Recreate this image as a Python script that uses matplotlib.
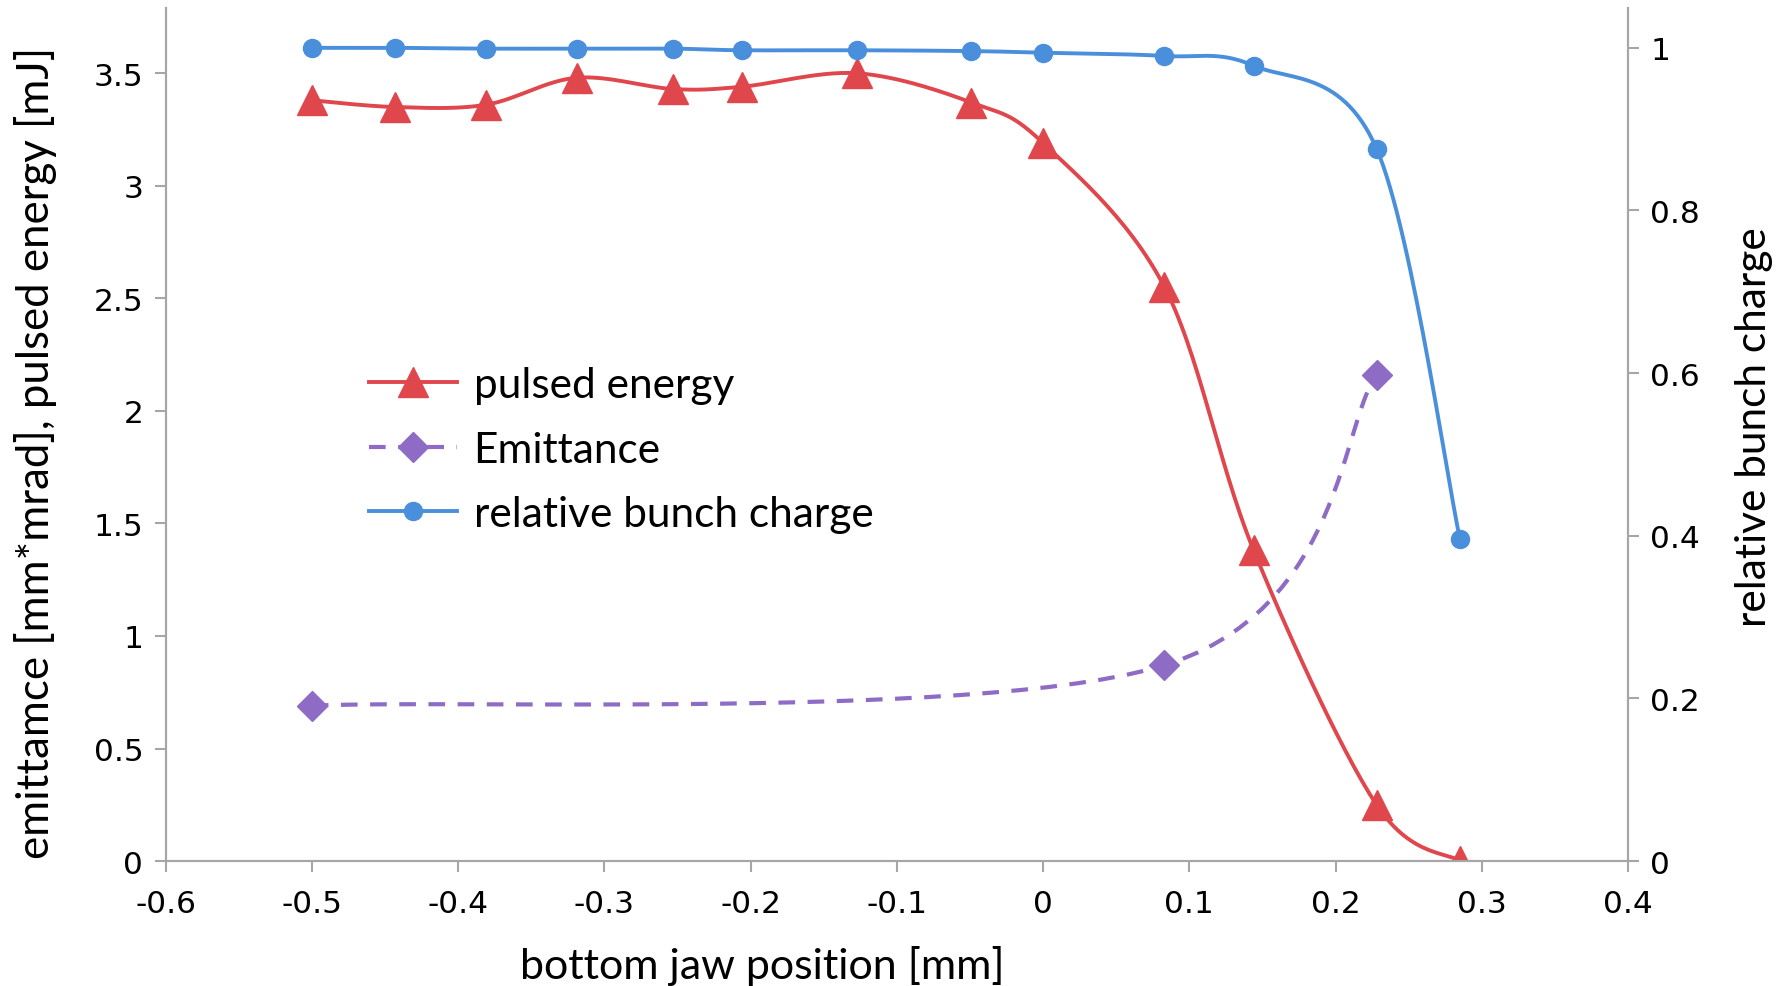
import matplotlib
matplotlib.use('Agg')
import matplotlib.pyplot as plt
import numpy as np

# data
jaw_pos = [-0.5, -0.443, -0.381, -0.319, -0.253, -0.206, -0.127, -0.049, 0.0, 0.083, 0.144, 0.228, 0.285]
pulsed_energy = [3.38, 3.35, 3.36, 3.48, 3.43, 3.44, 3.50, 3.37, 3.19, 2.55, 1.38, 0.25, 0.0]
bunch_charge = [1.0, 1.0, 0.999, 0.999, 0.999, 0.997, 0.997, 0.996, 0.994, 0.99, 0.978, 0.876, 0.396]
emit_pos = [-0.5, 0.083, 0.228]
emittance = [0.69, 0.87, 2.16]

RED = '#e0474c'
PURPLE = '#8e6cc6'
BLUE = '#4a8fdc'
GRAY = '#a6a6a6'

plt.rcParams['axes.unicode_minus'] = False


def smooth(x, y, n=30):
    # excel style smoothed line (catmull-rom bezier through the points)
    x = np.asarray(x, float)
    y = np.asarray(y, float)
    px = np.concatenate([[x[0]], x, [x[-1]]])
    py = np.concatenate([[y[0]], y, [y[-1]]])
    t = np.linspace(0, 1, n, endpoint=False)
    xs, ys = [], []
    for i in range(1, len(px) - 2):
        p0, p1, p2, p3 = (np.array([px[j], py[j]]) for j in (i - 1, i, i + 1, i + 2))
        c1 = p1 + (p2 - p0) / 6
        c2 = p2 - (p3 - p1) / 6
        b = ((1 - t) ** 3)[:, None] * p1 + (3 * (1 - t) ** 2 * t)[:, None] * c1 \
            + (3 * (1 - t) * t ** 2)[:, None] * c2 + (t ** 3)[:, None] * p2
        xs.extend(b[:, 0])
        ys.extend(b[:, 1])
    xs.append(x[-1])
    ys.append(y[-1])
    marks = list(range(0, len(xs), n))
    return np.array(xs), np.array(ys), marks


fig = plt.figure(figsize=(17.78, 9.87), dpi=100)
ax = fig.add_axes([0.0931, 0.1266, 0.8226, 0.8643])
ax2 = ax.twinx()

sx, sy, m = smooth(jaw_pos, pulsed_energy)
l1, = ax.plot(sx, sy, color=RED, lw=2.8, marker='^', ms=21, markevery=m,
              label='pulsed energy', zorder=3)
sx, sy, m = smooth(emit_pos, emittance)
l2, = ax.plot(sx, sy, color=PURPLE, lw=3, ls=(0, (4, 3)), marker='D', ms=15,
              markevery=m, label='Emittance', zorder=3)
sx, sy, m = smooth(jaw_pos, bunch_charge)
l3, = ax2.plot(sx, sy, color=BLUE, lw=2.8, marker='o', ms=13, markevery=m,
               label='relative bunch charge', zorder=3)

ax.set_xlim(-0.6, 0.4)
ax.set_ylim(0, 3.79)
ax2.set_ylim(0, 1.049)
ax.set_xticks(np.arange(-0.6, 0.41, 0.1))
ax.set_xticklabels(['-0.6', '-0.5', '-0.4', '-0.3', '-0.2', '-0.1', '0', '0.1', '0.2', '0.3', '0.4'])
ax.set_yticks([0, 0.5, 1, 1.5, 2, 2.5, 3, 3.5])
ax.set_yticklabels(['0', '0.5', '1', '1.5', '2', '2.5', '3', '3.5'])
ax2.set_yticks([0, 0.2, 0.4, 0.6, 0.8, 1])
ax2.set_yticklabels(['0', '0.2', '0.4', '0.6', '0.8', '1'])

for a in (ax, ax2):
    a.spines['top'].set_visible(False)
    for s in ('left', 'right', 'bottom'):
        a.spines[s].set_color(GRAY)
        a.spines[s].set_linewidth(1.5)
    a.tick_params(axis='both', length=8, width=1.5, color=GRAY, labelsize=22.5, pad=8)
ax.tick_params(axis='x', pad=12)

ax.set_xlabel('bottom jaw position [mm]', fontsize=31, family='Lato')
ax.xaxis.set_label_coords(0.408, -0.098)
ax.set_ylabel('emittamce [mm*mrad], pulsed energy [mJ]', fontsize=31.5,
              family='Lato')
ax.yaxis.set_label_coords(-0.074, 0.479)
ax2.set_ylabel('relative bunch charge', fontsize=30.5, family='Lato')
ax2.yaxis.set_label_coords(1.073, 0.51)

fig.legend(handles=[l1, l2, l3], loc='center left', bbox_to_anchor=(0.1958, 0.5435),
           frameon=False, prop={'family': 'Lato', 'size': 30.5}, borderpad=0,
           handlelength=2.08, handletextpad=0.38, labelspacing=0.63)

fig.savefig('out.png', dpi=100)
